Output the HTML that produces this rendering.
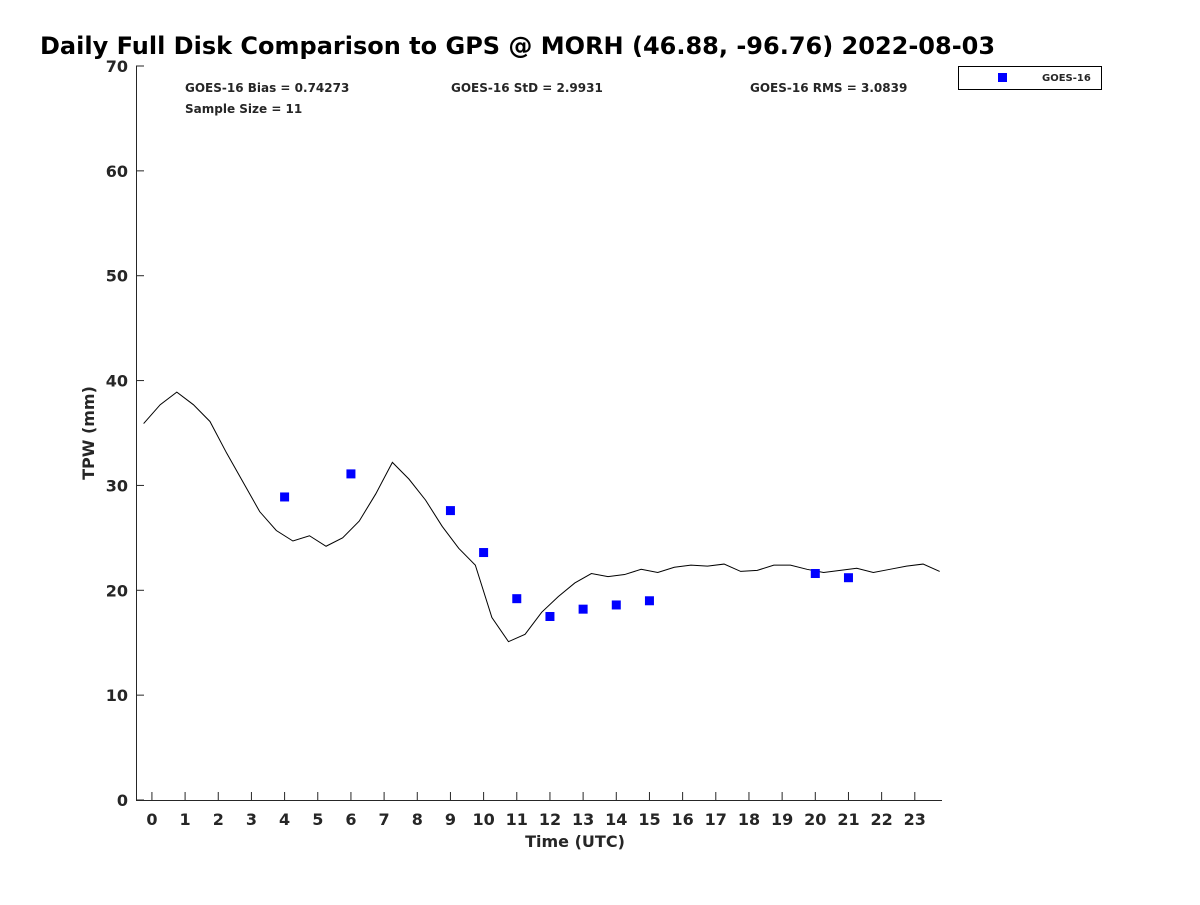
<!DOCTYPE html>
<html><head><meta charset="utf-8"><style>
body{margin:0;background:#fff;}
svg text{font-family:"DejaVu Sans","Liberation Sans",sans-serif;font-weight:bold;fill:#262626;}
</style></head><body>
<svg id="chart" width="1200" height="900" xmlns="http://www.w3.org/2000/svg">
<text x="40" y="54" font-size="24" style="fill:#000">Daily Full Disk Comparison to GPS @ MORH (46.88, -96.76) 2022-08-03</text>
<g id="axes"></g>
<text x="185" y="92" font-size="12">GOES-16 Bias = 0.74273</text>
<text x="451" y="92" font-size="12">GOES-16 StD = 2.9931</text>
<text x="750" y="92" font-size="12">GOES-16 RMS = 3.0839</text>
<text x="185" y="113" font-size="12">Sample Size = 11</text>
<g>
<rect x="958.5" y="66.5" width="143" height="23" fill="#fff" stroke="#000" stroke-width="1"/>
<rect x="998" y="73" width="9" height="9" fill="#0000ff"/>
<text x="1042" y="81" font-size="10">GOES-16</text>
</g>
<text x="575" y="847" font-size="16" text-anchor="middle">Time (UTC)</text>
<text transform="translate(94,433) rotate(-90)" font-size="16" text-anchor="middle">TPW (mm)</text>
</svg>
<script>
const lineTimes=[];for(let i=0;i<49;i++)lineTimes.push(-0.25+0.5*i);
const gpsValues=[35.9,37.7,38.9,37.7,36.1,33.1,30.3,27.5,25.7,24.7,25.2,24.2,25.0,26.6,29.2,32.2,30.6,28.6,26.1,24.0,22.4,17.4,15.1,15.8,17.9,19.4,20.7,21.6,21.3,21.5,22.0,21.7,22.2,22.4,22.3,22.5,21.8,21.9,22.4,22.4,22.0,21.7,21.9,22.1,21.7,22.0,22.3,22.5,21.8];
const goesHours=[4,6,9,10,11,12,13,14,15,20,21];
const goesValues=[28.9,31.1,27.6,23.6,19.2,17.5,18.2,18.6,19.0,21.6,21.2];
const xTicks=[...Array(24).keys()];
const yTicks=[0,10,20,30,40,50,60,70];
const X0=136,X1=942,Y0=800,Y1=66,xmin=-0.48,xmax=23.82,ymin=0,ymax=70;
const sx=v=>X0+(v-xmin)/(xmax-xmin)*(X1-X0);
const sy=v=>Y0-(v-ymin)/(ymax-ymin)*(Y0-Y1);
const NS="http://www.w3.org/2000/svg";
const svg=document.getElementById('chart');
const g=document.getElementById('axes');
function mk(t,a,p){const e=document.createElementNS(NS,t);for(const k in a)e.setAttribute(k,a[k]);(p||g).appendChild(e);return e;}
let e=mk('line',{x1:X0,y1:Y0+0.5,x2:X1,y2:Y0+0.5,stroke:'#262626'});


e=mk('line',{x1:X0+0.5,y1:Y0,x2:X0+0.5,y2:Y1,stroke:'#262626'});


xTicks.forEach(t=>{const x=sx(t);
 e=mk('line',{x1:x,y1:Y0,x2:x,y2:Y0-8,stroke:'#262626'});
 
 
 e=mk('text',{x:x,y:Y0+25,'font-size':16,'text-anchor':'middle'});e.textContent=t;
 
 });
yTicks.forEach(t=>{const y=sy(t);
 e=mk('line',{x1:X0,y1:y,x2:X0+8,y2:y,stroke:'#262626'});
 
 
 e=mk('text',{x:X0-8,y:y+6,'font-size':16,'text-anchor':'end'});e.textContent=t;
 
 });
e=mk('polyline',{points:lineTimes.map((t,i)=>sx(t)+','+sy(gpsValues[i])).join(' '),fill:'none',stroke:'#000','stroke-width':1});


goesHours.forEach((h,i)=>{
 e=mk('rect',{x:sx(h)-4.5,y:sy(goesValues[i])-4.5,width:9,height:9,fill:'#0000ff'});
 
 });
</script>
</body></html>
